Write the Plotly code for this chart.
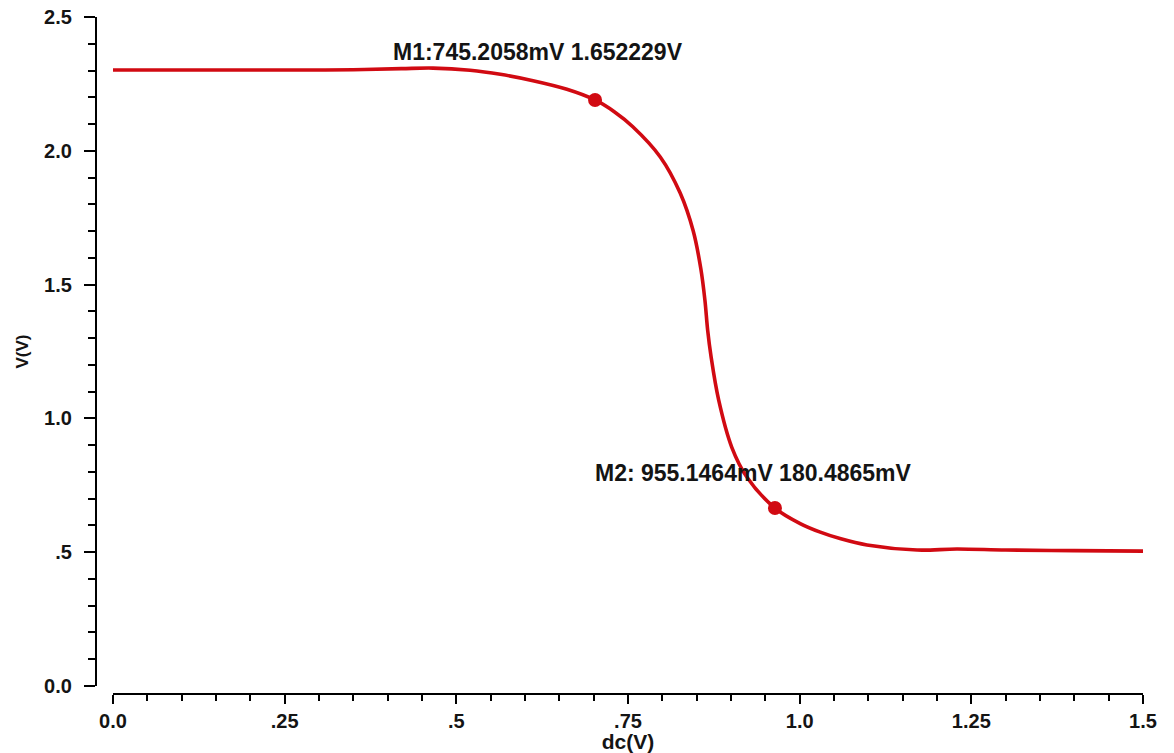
import plotly.graph_objects as go

# Data
dc_v = [0.0, 0.10, 0.20, 0.272, 0.35, 0.42, 0.466, 0.52, 0.564, 0.61, 0.661, 0.702, 0.73, 0.757,
        0.797, 0.826, 0.845, 0.856, 0.862, 0.866, 0.871, 0.882, 0.901, 0.923, 0.964, 1.000,
        1.030, 1.06, 1.098, 1.171, 1.229, 1.30, 1.40, 1.5]
v_out = [2.302, 2.302, 2.302, 2.302, 2.303, 2.307, 2.309, 2.301, 2.286, 2.263, 2.230, 2.190, 2.146, 2.090,
         1.977, 1.842, 1.700, 1.560, 1.442, 1.330, 1.230, 1.069, 0.893, 0.781, 0.665, 0.608,
         0.575, 0.550, 0.527, 0.508, 0.512, 0.508, 0.506, 0.504]

marker_x = [0.702, 0.964]
marker_y = [2.190, 0.665]
marker_labels = ["M1:745.2058mV 1.652229V", "M2: 955.1464mV 180.4865mV"]
label_x = [0.405, 0.699]
label_y = [2.369, 0.796]

x_tickvals = [0.0, 0.25, 0.5, 0.75, 1.0, 1.25, 1.5]
x_ticktext = ["0.0", ".25", ".5", ".75", "1.0", "1.25", "1.5"]
y_tickvals = [0.0, 0.5, 1.0, 1.5, 2.0, 2.5]
y_ticktext = ["0.0", ".5", "1.0", "1.5", "2.0", "2.5"]

RED = "#d10a12"
FONT = "Liberation Sans, Arial, sans-serif"
TXT = "#141414"

fig = go.Figure()
fig.add_trace(go.Scatter(x=dc_v, y=v_out, mode="lines",
                         line=dict(color=RED, width=3.6, shape="spline", smoothing=1.0),
                         showlegend=False, hoverinfo="skip", cliponaxis=False))
fig.add_trace(go.Scatter(x=marker_x, y=marker_y, mode="markers",
                         marker=dict(color=RED, size=14, line=dict(width=0)),
                         showlegend=False, cliponaxis=False))

for t, lx, ly in zip(marker_labels, label_x, label_y):
    fig.add_annotation(x=lx, y=ly, xref="x", yref="y", text=t, showarrow=False,
                       xanchor="left", yanchor="middle",
                       font=dict(family=FONT, size=23, color=TXT, weight=700))

W, H = 1174, 753
ml, mr, mt, mb = 96, 31, 17, 59
pw, ph = W - ml - mr, H - mt - mb

fig.update_layout(
    width=W, height=H,
    margin=dict(l=ml, r=mr, t=mt, b=mb, autoexpand=False),
    paper_bgcolor="white", plot_bgcolor="white",
    xaxis=dict(domain=[17 / pw, 1], range=[0, 1.5], anchor="free", position=0,
               showgrid=False, zeroline=False, showline=True, linecolor="black", linewidth=2.2,
               ticks="outside", ticklen=9, tickwidth=2.4, tickcolor="black",
               tickvals=x_tickvals, ticktext=x_ticktext,
               minor=dict(dtick=0.05, ticks="outside", ticklen=6, tickwidth=2.2, tickcolor="black", showgrid=False),
               tickfont=dict(family=FONT, size=20, color=TXT, weight=700),
               title=dict(text="dc(V)", font=dict(family=FONT, size=21, color=TXT, weight=700), standoff=0),
               automargin=False),
    yaxis=dict(domain=[8 / ph, 1], range=[0, 2.5], anchor="free", position=0,
               showgrid=False, zeroline=False, showline=True, linecolor="black", linewidth=2.2,
               ticks="outside", ticklen=11, tickwidth=2.4, tickcolor="black",
               tickvals=y_tickvals, ticktext=y_ticktext,
               minor=dict(dtick=0.1, ticks="outside", ticklen=7, tickwidth=2.2, tickcolor="black", showgrid=False),
               tickfont=dict(family=FONT, size=20, color=TXT, weight=700),
               ticklabelstandoff=8,
               title=dict(text="V(V)", font=dict(family=FONT, size=17, color=TXT, weight=700), standoff=10),
               automargin=False),
)

fig.write_html("out.html")
